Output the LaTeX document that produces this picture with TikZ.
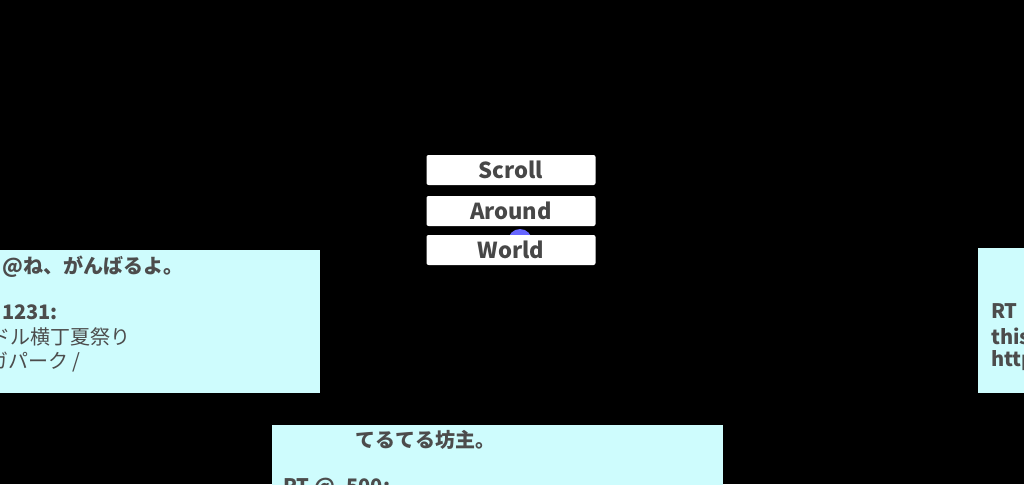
\documentclass[tikz,border=0pt]{standalone}
\usepackage{fontspec}
\setmainfont{Noto Sans CJK JP}
\definecolor{pan}{RGB}{206,252,253}
\begin{document}
\begin{tikzpicture}[x=1pt,y=-1pt,
  panel/.style={fill=pan,draw=none},
  btn/.style={fill=white,rounded corners=2pt,minimum width=169pt,minimum height=30pt,inner sep=0pt,text=black!72,font=\fontsize{22}{24}\selectfont\bfseries},
  tw/.style={anchor=west,text=black!70,inner sep=0pt,font=\fontsize{20}{22}\selectfont},
  twb/.style={tw,font=\fontsize{20}{22}\selectfont\bfseries}]
\useasboundingbox (0,0) rectangle (1024,484);
\clip (0,0) rectangle (1024,484);
\fill[black] (0,0) rectangle (1024,484);
\fill[panel] (0,250) rectangle (320,393);
\fill[panel] (272,425) rectangle (723,490);
\fill[panel] (978,248) rectangle (1030,393);
\node[twb] (l1) at (2,267) {@ね、がんばるよ。};
\node[twb] (l2) at (2,312) {1231:};
\node[tw] (l3) at (-10,337) {ドル横丁夏祭り};
\node[tw] (l4) at (-12,362) {ガパーク /};
\node[twb] (b1) at (355,440) {てるてる坊主。};
\node[twb] (b2) at (283,488) {RT @\_500:};
\node[twb] (r1) at (991,311) {RT};
\node[twb] (r2) at (991,336) {this};
\node[twb] (r3) at (991,361) {http};
\node[btn] (s) at (511,170) {Scroll};
\node[btn] (a) at (511,211) {Around};
\fill[blue!60!white] (520,241) circle (12pt);
\node[btn] (w) at (511,250) {World};
\end{tikzpicture}
\end{document}
